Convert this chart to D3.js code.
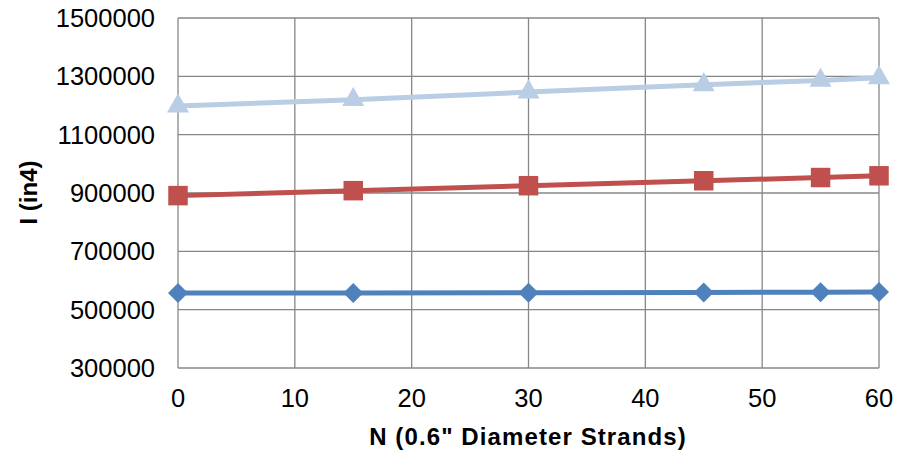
<!DOCTYPE html>
<html>
<head>
<meta charset="utf-8">
<script src="https://cdn.jsdelivr.net/npm/d3@7"></script>
<style>
  body { margin: 0; background: #fff; }
  text { font-family: "Liberation Sans", Arial, sans-serif; fill: #000; }
</style>
</head>
<body>
<div id="chart"></div>
<script>
const strands = [0, 15, 30, 45, 55, 60];
const seriesLow = [557000, 557500, 558000, 559000, 560000, 560500];
const seriesMid = [891000, 908000, 925000, 942000, 953000, 959000];
const seriesHigh = [1198000, 1220000, 1246000, 1271000, 1286000, 1295000];
const xTicks = [0, 10, 20, 30, 40, 50, 60];
const yTicks = [300000, 500000, 700000, 900000, 1100000, 1300000, 1500000];

const width = 912;
const height = 456;
const margin = { top: 18, right: 33, bottom: 88, left: 178 };

const svg = d3.select('#chart')
  .append('svg')
  .attr('width', width)
  .attr('height', height);

const xScale = d3.scaleLinear().domain([0, 60]).range([margin.left, width - margin.right]);
const yScale = d3.scaleLinear().domain([300000, 1500000]).range([height - margin.bottom, margin.top]);

// gridlines
const grid = svg.append('g').attr('stroke', '#878787').attr('stroke-width', 1.3);
grid.selectAll('.h').data(yTicks).join('line')
  .attr('x1', margin.left).attr('x2', width - margin.right)
  .attr('y1', d => yScale(d)).attr('y2', d => yScale(d));
grid.selectAll('.v').data(xTicks).join('line')
  .attr('y1', margin.top).attr('y2', height - margin.bottom)
  .attr('x1', d => xScale(d)).attr('x2', d => xScale(d));

// tick labels
svg.append('g').selectAll('text').data(yTicks).join('text')
  .attr('x', 155)
  .attr('y', d => yScale(d))
  .attr('dy', '0.35em')
  .attr('text-anchor', 'end')
  .attr('font-size', 25.5)
  .text(d => d);

svg.append('g').selectAll('text').data(xTicks).join('text')
  .attr('x', d => xScale(d))
  .attr('y', 407)
  .attr('text-anchor', 'middle')
  .attr('font-size', 25.5)
  .text(d => d);

// axis titles
svg.append('text')
  .attr('x', 528)
  .attr('y', 445)
  .attr('text-anchor', 'middle')
  .attr('font-size', 24)
  .attr('font-weight', 'bold')
  .attr('letter-spacing', '1.1px')
  .text('N (0.6" Diameter Strands)');

svg.append('text')
  .attr('transform', 'translate(37, 192.5) rotate(-90)')
  .attr('text-anchor', 'middle')
  .attr('font-size', 24)
  .attr('font-weight', 'bold')
  .text('I (in4)');

const series = [
  { values: seriesLow, color: '#4F81BD', symbol: d3.symbolSquare, size: 200, rotate: 45 },
  { values: seriesMid, color: '#C0504D', symbol: d3.symbolSquare, size: 380, rotate: 0 },
  { values: seriesHigh, color: '#B9CDE5', symbol: d3.symbolTriangle, size: 210, rotate: 0 },
];

const line = d3.line()
  .x(d => xScale(d[0]))
  .y(d => yScale(d[1]));

series.forEach(s => {
  const pts = strands.map((n, i) => [n, s.values[i]]);
  svg.append('path')
    .datum(pts)
    .attr('fill', 'none')
    .attr('stroke', s.color)
    .attr('stroke-width', 5)
    .attr('d', line);
  svg.append('g').selectAll('path').data(pts).join('path')
    .attr('transform', d => `translate(${xScale(d[0])},${yScale(d[1])}) rotate(${s.rotate})`)
    .attr('d', d3.symbol().type(s.symbol).size(s.size))
    .attr('fill', s.color);
});
</script>
</body>
</html>
